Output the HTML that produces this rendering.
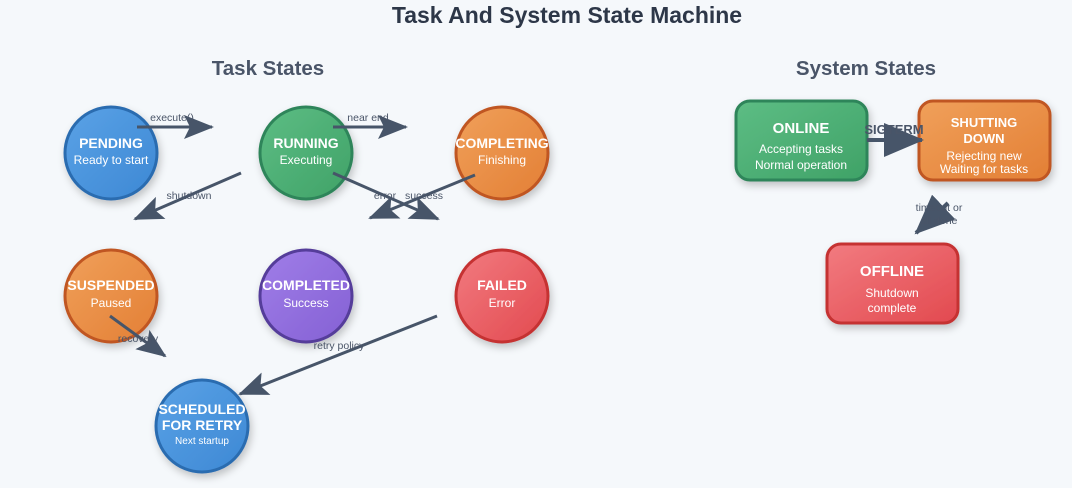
<!DOCTYPE html>
<html><head><meta charset="utf-8"><style>
html,body{margin:0;padding:0;background:#f5f8fb;}
svg{display:block;font-family:"Liberation Sans",Arial,sans-serif;}
</style></head><body>
<svg width="1072" height="488" viewBox="0 0 1072 488">
<defs>
<marker id="a" markerUnits="userSpaceOnUse" markerWidth="30" markerHeight="24" refX="28" refY="12" orient="auto"><path d="M0,0 L30,12 L0,24 L6,12 z" fill="#475569"/></marker>
<marker id="b" markerUnits="userSpaceOnUse" markerWidth="40" markerHeight="34" refX="38" refY="17" orient="auto"><path d="M0,0 L40,17 L0,34 z" fill="#475569"/></marker>
<filter id="s" x="-30%" y="-30%" width="160%" height="160%"><feDropShadow dx="2" dy="4" stdDeviation="4" flood-color="#000" flood-opacity="0.22"/></filter>
<linearGradient id="gb" x1="0" y1="0" x2="1" y2="1"><stop offset="0" stop-color="#5aa2e6"/><stop offset="1" stop-color="#3d88d4"/></linearGradient>
<linearGradient id="gg" x1="0" y1="0" x2="1" y2="1"><stop offset="0" stop-color="#5dbd84"/><stop offset="1" stop-color="#3fa267"/></linearGradient>
<linearGradient id="go" x1="0" y1="0" x2="1" y2="1"><stop offset="0" stop-color="#f0a05a"/><stop offset="1" stop-color="#e37f35"/></linearGradient>
<linearGradient id="gp" x1="0" y1="0" x2="1" y2="1"><stop offset="0" stop-color="#a07ee8"/><stop offset="1" stop-color="#8460d4"/></linearGradient>
<linearGradient id="gr" x1="0" y1="0" x2="1" y2="1"><stop offset="0" stop-color="#f27b80"/><stop offset="1" stop-color="#e2494f"/></linearGradient>
</defs>
<text x="567" y="23" text-anchor="middle" font-size="23" font-weight="bold" fill="#2d3748">Task And System State Machine</text>
<text x="268" y="75" text-anchor="middle" font-size="20.5" font-weight="bold" fill="#4a5568">Task States</text>
<text x="866" y="75" text-anchor="middle" font-size="20.5" font-weight="bold" fill="#4a5568">System States</text>

<g stroke-width="3" filter="url(#s)">
<circle cx="111" cy="153" r="46" fill="url(#gb)" stroke="#2b6cb0"/>
<circle cx="306" cy="153" r="46" fill="url(#gg)" stroke="#2f855a"/>
<circle cx="502" cy="153" r="46" fill="url(#go)" stroke="#c05621"/>
<circle cx="111" cy="296" r="46" fill="url(#go)" stroke="#c05621"/>
<circle cx="306" cy="296" r="46" fill="url(#gp)" stroke="#553c9a"/>
<circle cx="502" cy="296" r="46" fill="url(#gr)" stroke="#c53030"/>
<circle cx="202" cy="426" r="46" fill="url(#gb)" stroke="#2b6cb0"/>
<rect x="736" y="101" width="131" height="79" rx="14" fill="url(#gg)" stroke="#2f855a"/>
<rect x="919" y="101" width="131" height="79" rx="14" fill="url(#go)" stroke="#c05621"/>
<rect x="827" y="244" width="131" height="79" rx="14" fill="url(#gr)" stroke="#c53030"/>
</g>

<g fill="#fff" text-anchor="middle">
<text x="111" y="148" font-size="14" font-weight="bold">PENDING</text>
<text x="111" y="164" font-size="12">Ready to start</text>
<text x="306" y="148" font-size="14" font-weight="bold">RUNNING</text>
<text x="306" y="164" font-size="12">Executing</text>
<text x="502" y="148" font-size="14" font-weight="bold">COMPLETING</text>
<text x="502" y="164" font-size="12">Finishing</text>
<text x="111" y="290" font-size="14" font-weight="bold">SUSPENDED</text>
<text x="111" y="307" font-size="12">Paused</text>
<text x="306" y="290" font-size="14" font-weight="bold">COMPLETED</text>
<text x="306" y="307" font-size="12">Success</text>
<text x="502" y="290" font-size="14" font-weight="bold">FAILED</text>
<text x="502" y="307" font-size="12">Error</text>
<text x="202" y="414" font-size="14" font-weight="bold">SCHEDULED</text>
<text x="202" y="430" font-size="14" font-weight="bold">FOR RETRY</text>
<text x="202" y="444" font-size="10">Next startup</text>
<text x="801" y="133" font-size="15" font-weight="bold">ONLINE</text>
<text x="801" y="153" font-size="12">Accepting tasks</text>
<text x="801" y="169" font-size="12">Normal operation</text>
<text x="984" y="127" font-size="13" font-weight="bold">SHUTTING</text>
<text x="984" y="143" font-size="13" font-weight="bold">DOWN</text>
<text x="984" y="160" font-size="12">Rejecting new</text>
<text x="984" y="173" font-size="12">Waiting for tasks</text>
<text x="892" y="276" font-size="15" font-weight="bold">OFFLINE</text>
<text x="892" y="297" font-size="12">Shutdown</text>
<text x="892" y="312" font-size="12">complete</text>
</g>

<g stroke="#475569" stroke-width="3" fill="none">
<line x1="137" y1="127" x2="212" y2="127" marker-end="url(#a)"/>
<line x1="333" y1="127" x2="406" y2="127" marker-end="url(#a)"/>
<line x1="241" y1="173" x2="135" y2="219" marker-end="url(#a)"/>
<line x1="333" y1="173" x2="438" y2="219" marker-end="url(#a)"/>
<line x1="475" y1="175" x2="370" y2="218" marker-end="url(#a)"/>
<line x1="110" y1="316" x2="165" y2="356" marker-end="url(#a)"/>
<line x1="437" y1="316" x2="240" y2="394" marker-end="url(#a)"/>
<line x1="867" y1="140" x2="922" y2="140" stroke-width="4" marker-end="url(#b)"/>
<line x1="948" y1="203" x2="916" y2="233" stroke-width="4" marker-end="url(#b)"/>
</g>

<g fill="#4a5568" font-size="10.5" text-anchor="middle">
<text x="172" y="121">execute()</text>
<text x="368" y="121">near end</text>
<text x="189" y="199">shutdown</text>
<text x="385" y="199">error</text>
<text x="424" y="199">success</text>
<text x="138" y="342">recovery</text>
<text x="339" y="349">retry policy</text>
<text x="939" y="211">timeout or</text>
<text x="939" y="224">all done</text>
</g>
<text x="894" y="134" font-size="13" font-weight="bold" fill="#4a5568" text-anchor="middle">SIGTERM</text>
</svg>
</body></html>
